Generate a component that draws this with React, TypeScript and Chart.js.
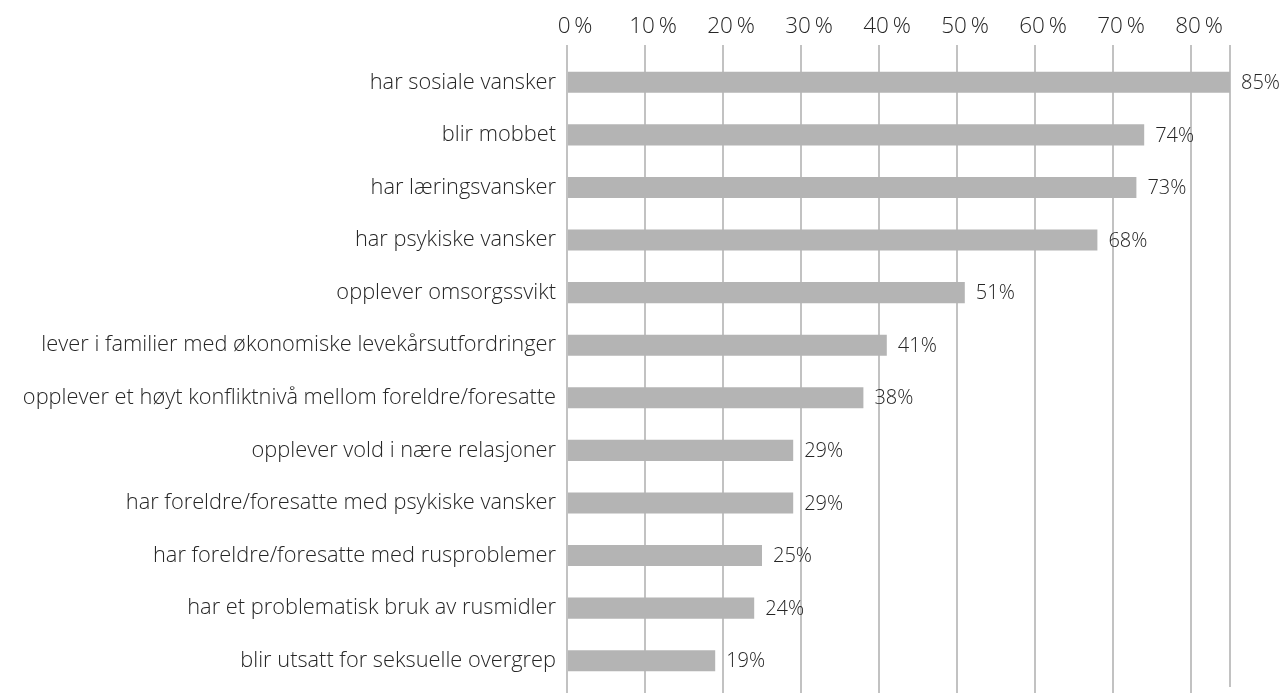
import React, { useEffect, useRef } from "react";
import { Chart, registerables } from "chart.js";

Chart.register(...registerables);

const categories = [
  "har sosiale vansker",
  "blir mobbet",
  "har læringsvansker",
  "har psykiske vansker",
  "opplever omsorgssvikt",
  "lever i familier med økonomiske levekårsutfordringer",
  "opplever et høyt konfliktnivå mellom foreldre/foresatte",
  "opplever vold i nære relasjoner",
  "har foreldre/foresatte med psykiske vansker",
  "har foreldre/foresatte med rusproblemer",
  "har et problematisk bruk av rusmidler",
  "blir utsatt for seksuelle overgrep",
];

const values = [85, 74, 73, 68, 51, 41, 38, 29, 29, 25, 24, 19];

const tickStep = 10;
const axisMax = 85;

const FONT = "'Open Sans', 'Noto Sans', sans-serif";
const GRID = "#c2c2c2";
const TEXT = "#262626";

const valueLabels = {
  id: "valueLabels",
  afterDatasetsDraw(chart: any) {
    const ctx = chart.ctx;
    const meta = chart.getDatasetMeta(0);
    ctx.save();
    ctx.font = `300 20px ${FONT}`;
    ctx.fillStyle = TEXT;
    ctx.textAlign = "left";
    ctx.textBaseline = "middle";
    meta.data.forEach((bar: any, i: number) => {
      ctx.fillText(values[i] + "%", bar.x + 11, bar.y + 1);
    });
    ctx.restore();
  },
};

const gridExtend = {
  id: "gridExtend",
  beforeDatasetsDraw(chart: any) {
    const ctx = chart.ctx;
    const xs = chart.scales.x;
    const bottom = chart.chartArea.bottom;
    ctx.save();
    ctx.strokeStyle = GRID;
    ctx.lineWidth = 2;
    xs.ticks.forEach((t: any) => {
      if (Number(t.value) % tickStep !== 0) return;
      const x = Math.round(xs.getPixelForValue(t.value));
      ctx.beginPath();
      ctx.moveTo(x, bottom);
      ctx.lineTo(x, chart.height);
      ctx.stroke();
    });
    ctx.restore();
  },
};

export default function App() {
  const canvasRef = useRef<HTMLCanvasElement | null>(null);

  useEffect(() => {
    if (!canvasRef.current) return;
    const chart = new Chart(canvasRef.current, {
      type: "bar",
      data: {
        labels: categories,
        datasets: [
          {
            data: values,
            backgroundColor: "#b4b4b4",
            borderWidth: 0,
            barPercentage: 0.8,
            categoryPercentage: 0.5,
          },
        ],
      },
      options: {
        indexAxis: "y",
        animation: false,
        responsive: false,
        maintainAspectRatio: false,
        layout: { padding: { left: 0, right: 52, top: 0, bottom: 6 } },
        plugins: {
          legend: { display: false },
          tooltip: { enabled: false },
        },
        scales: {
          x: {
            position: "top",
            min: 0,
            max: axisMax,
            afterFit(scale: any) {
              scale.height = 56;
            },
            ticks: {
              stepSize: tickStep,
              padding: 5,
              labelOffset: 8,
              color: TEXT,
              font: { family: FONT, size: 22.5, weight: "300" },
              callback: (v: any) => (Number(v) % 10 === 0 ? v + "\u2009%" : ""),
            },
            grid: {
              color: GRID,
              lineWidth: 2,
              tickLength: 11,
              drawTicks: true,
            },
            border: { display: false },
          },
          y: {
            afterFit(scale: any) {
              scale.width = 567;
              scale.paddingTop = 0;
              scale.paddingBottom = 0;
            },
            ticks: {
              padding: 11,
              color: TEXT,
              font: { family: FONT, size: 21.8, weight: "300" },
            },
            grid: { display: false, drawTicks: false },
            border: { display: false },
          },
        },
      },
      plugins: [gridExtend, valueLabels],
    });
    return () => chart.destroy();
  }, []);

  return (
    <div style={{ position: "absolute", left: 0, top: 0, width: 1282, height: 693, background: "#fff" }}>
      <canvas ref={canvasRef} width={1282} height={693} style={{ display: "block" }} />
    </div>
  );
}
